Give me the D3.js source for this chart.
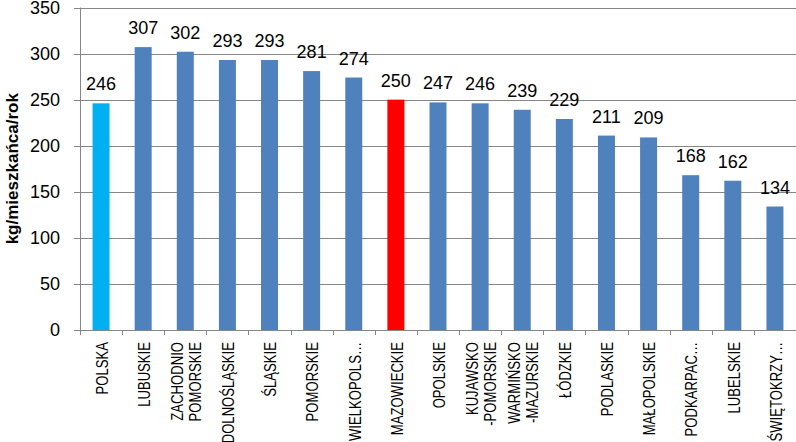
<!DOCTYPE html>
<html>
<head>
<meta charset="utf-8">
<script src="https://cdn.jsdelivr.net/npm/d3@7"></script>
<style>
  body { margin: 0; background: #fff; }
  text { font-family: "Liberation Sans", Arial, sans-serif; }
</style>
</head>
<body>
<div class="chart"></div>
<script>
// regions, each label may have two lines
const regions = [
    ["POLSKA"], ["LUBUSKIE"], ["ZACHODNIO", "POMORSKIE"], ["DOLNOŚLĄSKIE"], ["ŚLĄSKIE"],
    ["POMORSKIE"], ["WIELKOPOLS…"], ["MAZOWIECKIE"], ["OPOLSKIE"], ["KUJAWSKO", "-POMORSKIE"],
    ["WARMIŃSKO", "-MAZURSKIE"], ["ŁÓDZKIE"], ["PODLASKIE"], ["MAŁOPOLSKIE"], ["PODKARPAC…"],
    ["LUBELSKIE"], ["ŚWIĘTOKRZY…"]
]
const values = [246, 307, 302, 293, 293, 281, 274, 250, 247, 246, 239, 229, 211, 209, 168, 162, 134]
const yTicks = [0, 50, 100, 150, 200, 250, 300, 350]
const highlight = {0: "#00B0F0", 7: "#FF0000"}

const width = 796
const height = 442
const margin = {left: 80, right: 0, top: 7.5, bottom: 112}

const svg = d3.select(".chart").append("svg")
    .attr("width", width)
    .attr("height", height)

const x = d3.scaleBand()
    .domain(d3.range(values.length))
    .range([margin.left, width - margin.right])

const y = d3.scaleLinear()
    .domain([0, 350])
    .range([height - margin.bottom, margin.top])

// gridlines
svg.append("g")
    .selectAll("line")
    .data(yTicks)
    .join("line")
    .attr("x1", margin.left - 6)
    .attr("x2", width)
    .attr("y1", d => Math.round(y(d)) + 0.5)
    .attr("y2", d => Math.round(y(d)) + 0.5)
    .attr("stroke", "#868686")

// y axis line
svg.append("line")
    .attr("x1", margin.left + 0.5).attr("x2", margin.left + 0.5)
    .attr("y1", y(350)).attr("y2", y(0))
    .attr("stroke", "#868686")

svg.append("g")
    .selectAll("text")
    .data(yTicks)
    .join("text")
    .attr("x", 60)
    .attr("y", d => y(d))
    .attr("dy", "0.36em")
    .attr("text-anchor", "end")
    .style("font-size", "18px")
    .text(d => d)

// x ticks between categories
svg.append("g")
    .selectAll("line")
    .data(d3.range(values.length + 1))
    .join("line")
    .attr("x1", i => Math.round(margin.left + i * x.step()) + 0.5)
    .attr("x2", i => Math.round(margin.left + i * x.step()) + 0.5)
    .attr("y1", y(0))
    .attr("y2", y(0) + 5)
    .attr("stroke", "#868686")

const barW = 17
svg.append("g")
    .selectAll("rect")
    .data(values)
    .join("rect")
    .attr("x", (d, i) => x(i) + x.bandwidth() / 2 - barW / 2)
    .attr("y", d => y(d))
    .attr("width", barW)
    .attr("height", d => y(0) - y(d))
    .attr("fill", (d, i) => highlight[i] || "#4F81BD")

svg.append("g")
    .selectAll("text")
    .data(values)
    .join("text")
    .attr("x", (d, i) => x(i) + x.bandwidth() / 2)
    .attr("y", d => y(d) - 13)
    .attr("text-anchor", "middle")
    .style("font-size", "18px")
    .text(d => d)

// category labels, rotated and squeezed along the text to look narrow
const labels = svg.append("g")
    .selectAll("text")
    .data(regions)
    .join("text")
    .attr("transform", (d, i) => `translate(${x(i) + x.bandwidth() / 2 + 1},${y(0) + 12}) rotate(-90) scale(0.82,1)`)
    .attr("text-anchor", "end")
    .style("font-size", "16px")

labels.selectAll("tspan")
    .data(d => d.map((t, k) => ({t, k, n: d.length})))
    .join("tspan")
    .attr("x", 0)
    .attr("y", d => (d.k - (d.n - 1) / 2) * 18)
    .attr("dy", "0.36em")
    .text(d => d.t)

svg.append("text")
    .attr("transform", `translate(18,${y(175)}) rotate(-90)`)
    .attr("text-anchor", "middle")
    .style("font-size", "17px")
    .style("font-weight", "bold")
    .text("kg/mieszkańca/rok")
</script>
</body>
</html>
